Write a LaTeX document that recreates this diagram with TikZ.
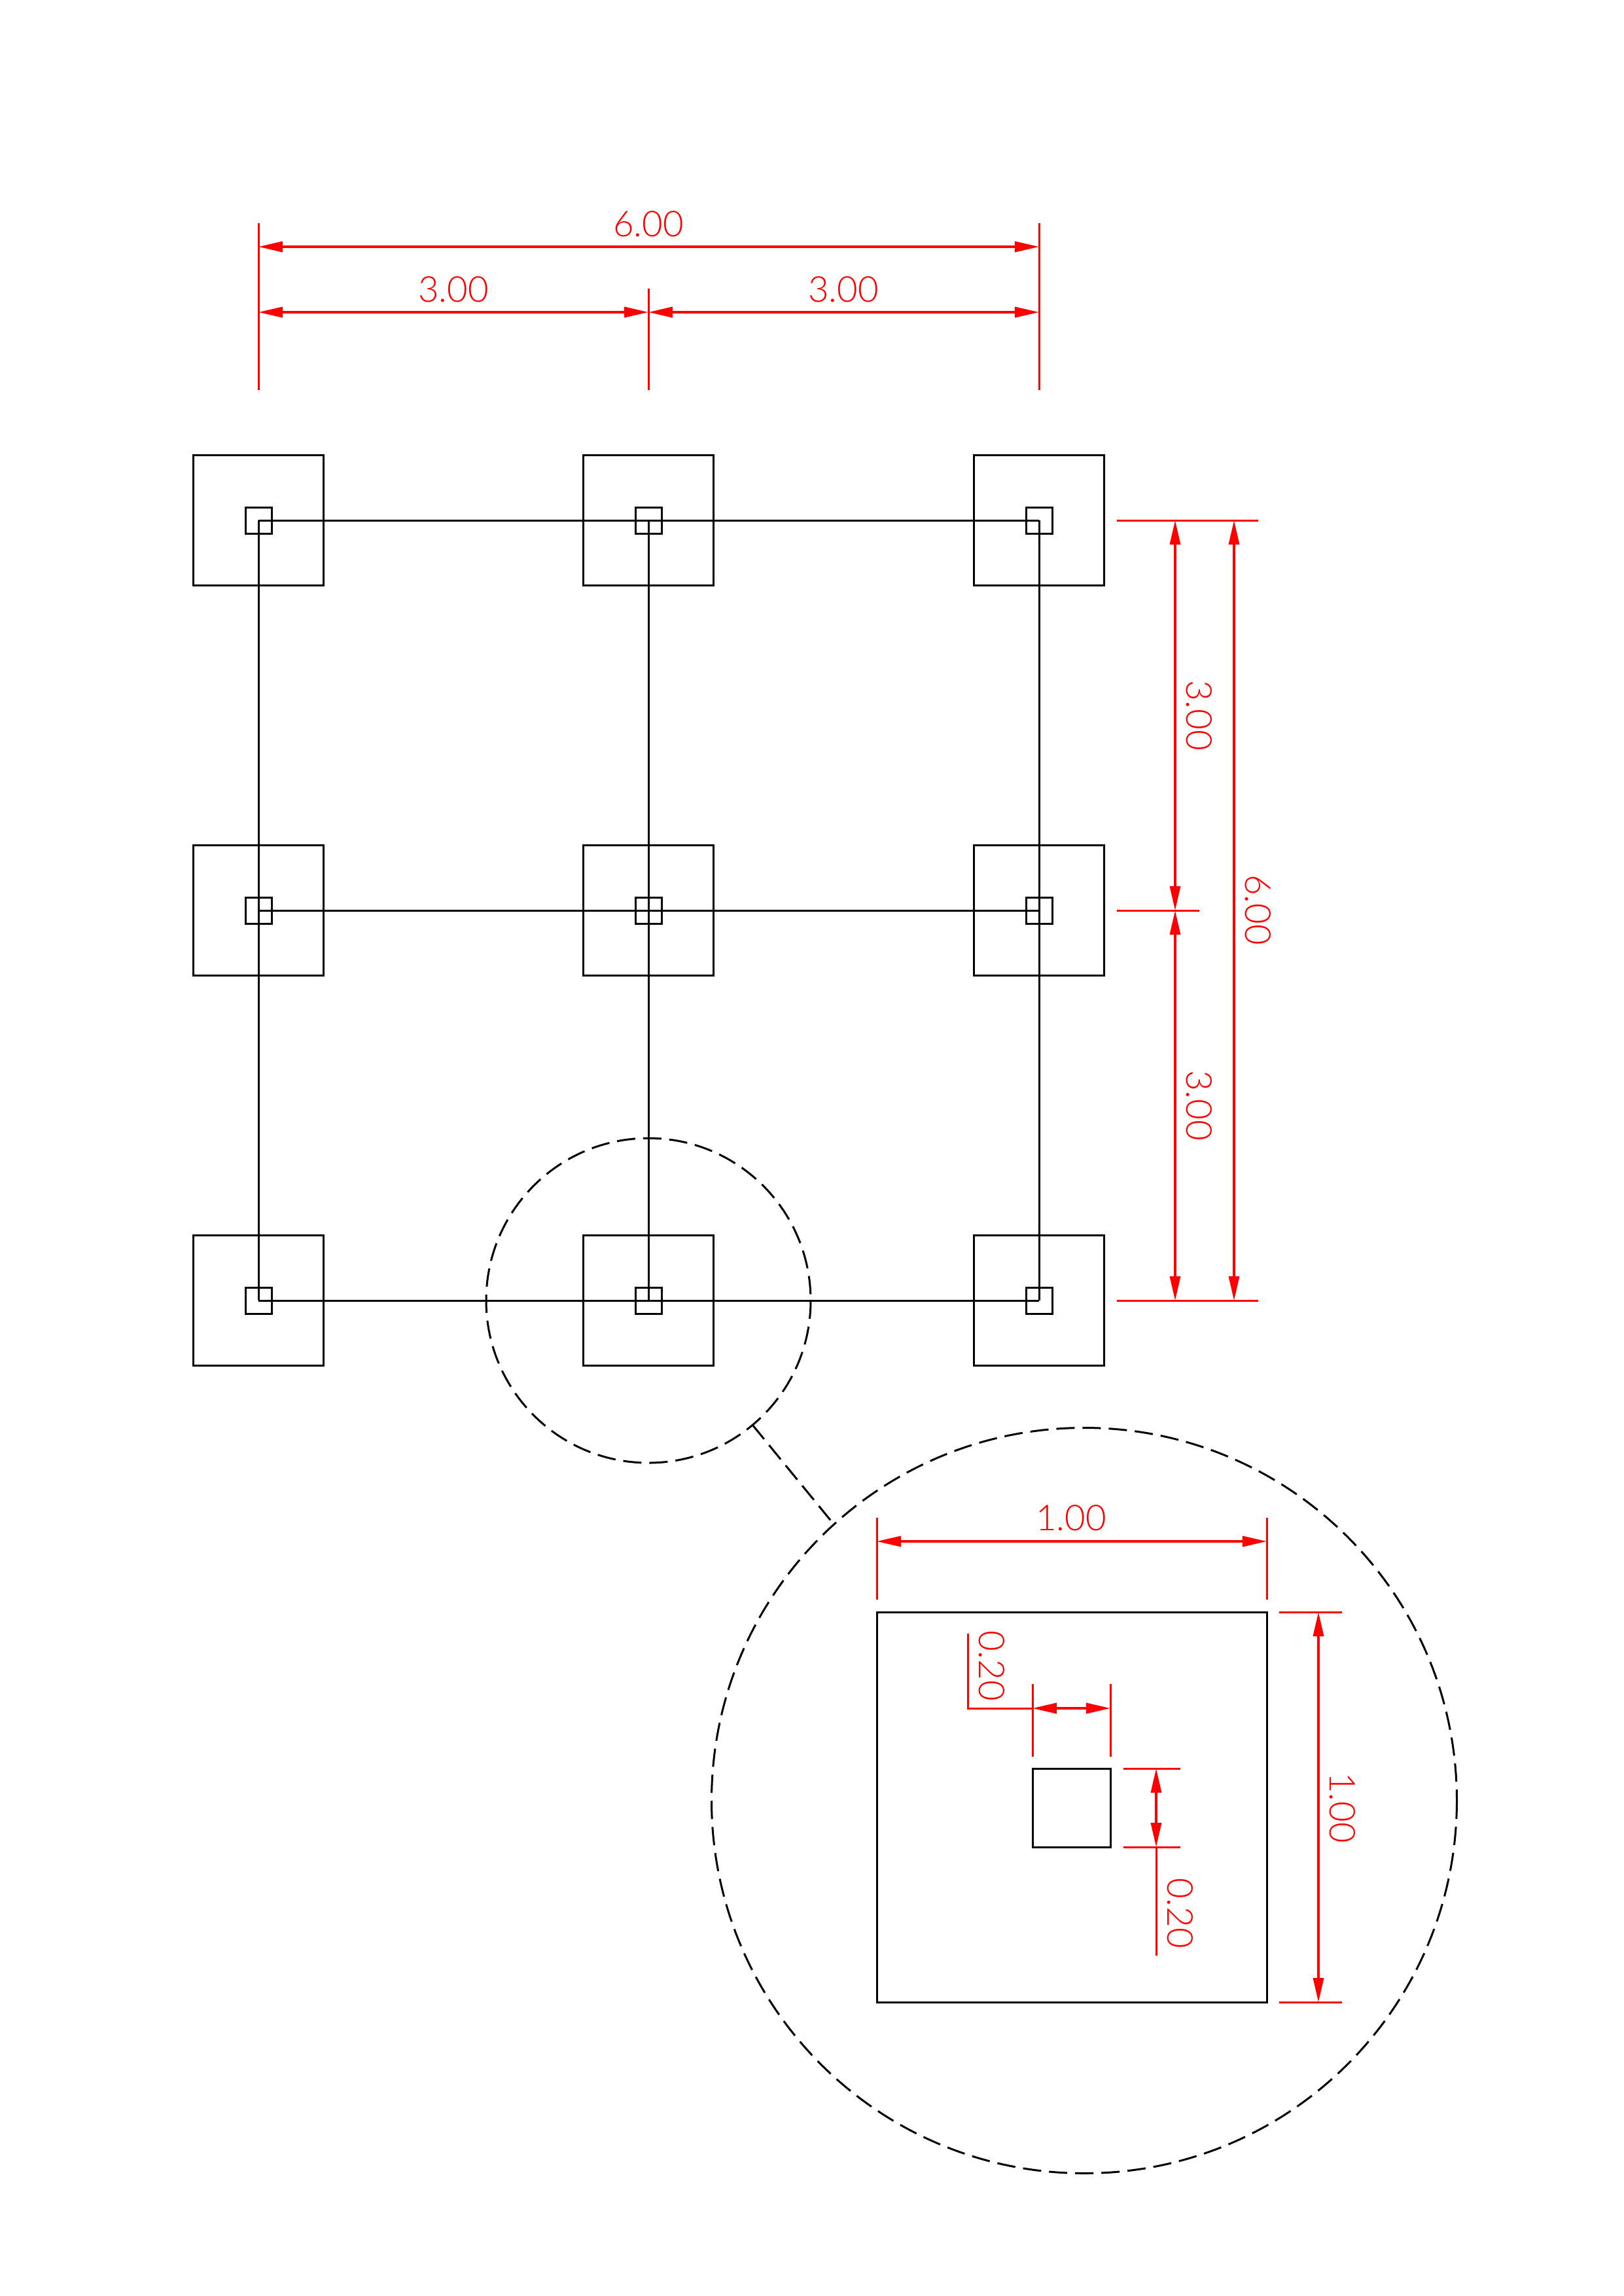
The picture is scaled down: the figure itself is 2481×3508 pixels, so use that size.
\documentclass[tikz,border=0pt]{standalone}
\usepackage{fontspec}
\newfontfamily\dimfont[UprightFont=* Light]{Lato}
\usetikzlibrary{arrows.meta}
\tikzset{
	member/.style={black,line width=0.03cm},
	dashline/.style={black,line width=0.03cm,dash pattern=on 0.28cm off 0.12cm},
	extline/.style={red,line width=0.03cm},
	dimline/.style={red,line width=0.032cm,{Triangle[length=0.37cm,width=0.16cm]}-{Triangle[length=0.37cm,width=0.16cm]}},
	dimtext/.style={red,inner sep=0pt,font=\dimfont\fontsize{15.5}{15.5}\selectfont}
}
\begin{document}
\begin{tikzpicture}[x=0.01cm,y=-0.01cm]
	\useasboundingbox (0,0) rectangle (2481,3508);

	% members
	\foreach \c in {395,991,1588} {
		\draw[member] (\c,795) -- (\c,1987);
	}
	\foreach \r in {795,1391,1987} {
		\draw[member] (395,\r) -- (1588,\r);
	}

	% footings and columns
	\foreach \c in {395,991,1588} {
		\foreach \r in {795,1391,1987} {
			\draw[member] (\c-99.5,\r-99.5) rectangle (\c+99.5,\r+99.5);
			\draw[member] (\c-20,\r-20) rectangle (\c+20,\r+20);
		}
	}

	% top dimensions
	\draw[extline] (395,341) -- (395,596);
	\draw[extline] (991,441) -- (991,596);
	\draw[extline] (1588,341) -- (1588,596);
	\draw[dimline] (395,377) -- (1588,377);
	\draw[dimline] (395,477) -- (991,477);
	\draw[dimline] (991,477) -- (1588,477);
	\node[dimtext] (topall) at (991,342) {6.00};
	\node[dimtext] (topleft) at (693,442) {3.00};
	\node[dimtext] (topright) at (1289,442) {3.00};

	% right dimensions
	\draw[extline] (1707,795) -- (1923,795);
	\draw[extline] (1707,1391) -- (1833,1391);
	\draw[extline] (1707,1987) -- (1923,1987);
	\draw[dimline] (1796,795) -- (1796,1391);
	\draw[dimline] (1796,1391) -- (1796,1987);
	\draw[dimline] (1886,795) -- (1886,1987);
	\node[dimtext,rotate=-90] (rightupper) at (1833,1093) {3.00};
	\node[dimtext,rotate=-90] (rightlower) at (1833,1689) {3.00};
	\node[dimtext,rotate=-90] (rightall) at (1923,1390) {6.00};

	% detail circles
	\draw[dashline] (991,1987) circle[radius=248];
	\draw[dashline] (1657,2751) circle[radius=569.5];
	\draw[dashline] (1150,2177) -- (1272,2326);

	% detail footing
	\draw[member] (1340,2463) rectangle (1936,3059);
	\draw[member] (1578,2702) rectangle (1697,2822);

	% detail, footing width
	\draw[extline] (1340,2319) -- (1340,2444);
	\draw[extline] (1936,2319) -- (1936,2444);
	\draw[dimline] (1340,2355) -- (1936,2355);
	\node[dimtext] (detailtop) at (1637,2319) {1.00};

	% detail, footing height
	\draw[extline] (1955,2463) -- (2051,2463);
	\draw[extline] (1955,3059) -- (2051,3059);
	\draw[dimline] (2015,2463) -- (2015,3059);
	\node[dimtext,rotate=-90] (detailright) at (2052,2762) {1.00};

	% detail, column width
	\draw[extline] (1578,2573) -- (1578,2684);
	\draw[extline] (1697,2573) -- (1697,2684);
	\draw[dimline] (1578,2610) -- (1697,2610);
	\draw[extline] (1578,2610) -- (1479,2610) -- (1479,2496);
	\node[dimtext,rotate=-90] (columnwidth) at (1516,2545) {0.20};

	% detail, column height
	\draw[extline] (1717,2702) -- (1804,2702);
	\draw[extline] (1717,2822) -- (1804,2822);
	\draw[dimline] (1767,2702) -- (1767,2822);
	\draw[extline] (1767,2822) -- (1767,2988);
	\node[dimtext,rotate=-90] (columnheight) at (1804,2923) {0.20};

\end{tikzpicture}
\end{document}
